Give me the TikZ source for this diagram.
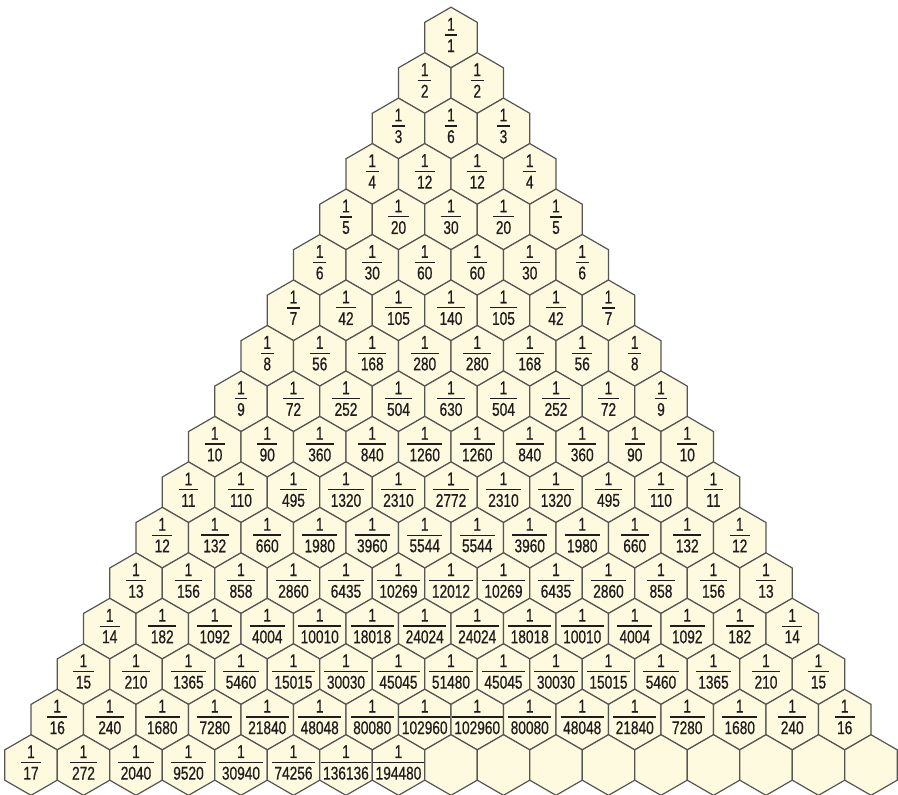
\documentclass[tikz,border=0pt]{standalone}
\usepackage{fontspec}
\newfontfamily\numfont{Liberation Sans}[FakeStretch=0.74,FakeBold=0.6]
\newcommand{\hfr}[1]{\vbox{\offinterlineskip\halign{\hfil\kern2.5pt##\kern2.5pt\hfil\cr 1\cr\noalign{\kern3.8pt\hrule height1.3pt\kern3.6pt}#1\cr}}}
\definecolor{cellfill}{HTML}{FEFADF}
\definecolor{celledge}{HTML}{555553}
\definecolor{numcol}{HTML}{1E1C1D}
\newcommand{\rowtext}[2]{\foreach \d [count=\k from 0] in {#2}{\node[fracnode] (t-#1-\k) at ([yshift=2.5pt]c-#1-\k) {\hfr{\d}};}}
\begin{document}
\begin{tikzpicture}[x=1pt,y=1pt,
  hexcell/.style={draw=celledge, fill=cellfill, line width=1.2pt, line join=miter},
  fracnode/.style={inner sep=0pt, text=numcol, font=\numfont\fontsize{18.5}{20}\selectfont}]
\useasboundingbox (0,0) rectangle (898,-795);
\foreach \r in {0,...,16}{
  \foreach \k in {0,...,\r}{
    \coordinate (c-\r-\k) at ({451+(\k-\r/2)*52.5},{-37.5-\r*45.47});
    \draw[hexcell] (c-\r-\k) +(90:30.31) -- +(150:30.31) -- +(210:30.31) -- +(270:30.31) -- +(330:30.31) -- +(30:30.31) -- cycle;
  }
}
\rowtext{0}{1}
\rowtext{1}{2,2}
\rowtext{2}{3,6,3}
\rowtext{3}{4,12,12,4}
\rowtext{4}{5,20,30,20,5}
\rowtext{5}{6,30,60,60,30,6}
\rowtext{6}{7,42,105,140,105,42,7}
\rowtext{7}{8,56,168,280,280,168,56,8}
\rowtext{8}{9,72,252,504,630,504,252,72,9}
\rowtext{9}{10,90,360,840,1260,1260,840,360,90,10}
\rowtext{10}{11,110,495,1320,2310,2772,2310,1320,495,110,11}
\rowtext{11}{12,132,660,1980,3960,5544,5544,3960,1980,660,132,12}
\rowtext{12}{13,156,858,2860,6435,10269,12012,10269,6435,2860,858,156,13}
\rowtext{13}{14,182,1092,4004,10010,18018,24024,24024,18018,10010,4004,1092,182,14}
\rowtext{14}{15,210,1365,5460,15015,30030,45045,51480,45045,30030,15015,5460,1365,210,15}
\rowtext{15}{16,240,1680,7280,21840,48048,80080,102960,102960,80080,48048,21840,7280,1680,240,16}
\rowtext{16}{17,272,2040,9520,30940,74256,136136,194480}
\end{tikzpicture}
\end{document}
